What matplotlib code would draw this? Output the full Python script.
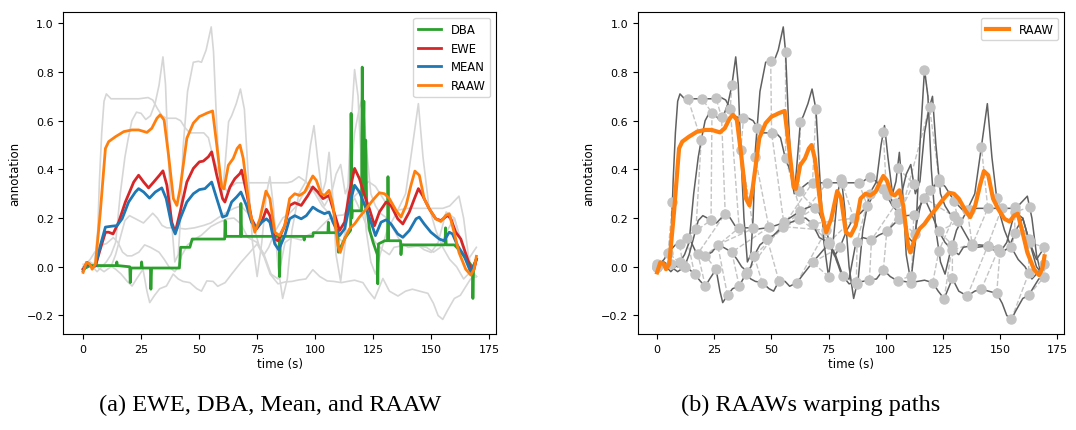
import numpy as np
import matplotlib
matplotlib.use('Agg')
import matplotlib.pyplot as plt

# annotator curves (time s, value)
t1 = [0, 2, 4, 5, 6.3, 7, 8, 9, 10, 12, 16, 20, 24, 28, 30, 32, 34, 36, 40, 42, 44, 46, 52, 54, 56, 58, 60, 62, 64, 66,
      75, 85, 88, 90, 93, 96, 100, 103, 106, 108, 110, 112, 114, 116, 118, 120, 123, 126, 130, 134, 140, 150, 155, 158,
      160, 162, 164, 166, 168, 169.5]
v1 = [0, 0.01, 0.0, 0.02, 0.15, 0.35, 0.55, 0.68, 0.71, 0.69, 0.69, 0.69, 0.69, 0.695, 0.685, 0.65, 0.62, 0.61, 0.61,
      0.6, 0.57, 0.55, 0.55, 0.53, 0.45, 0.40, 0.34, 0.31, 0.33, 0.345, 0.345, 0.345, 0.345, 0.35, 0.37, 0.35, 0.3, 0.25,
      0.22, 0.2, 0.12, 0.1, 0.2, 0.28, 0.3, 0.32, 0.35, 0.33, 0.27, 0.23, 0.24, 0.24, 0.24, 0.25, 0.27, 0.29, 0.2, 0.05,
      -0.03, -0.04]

t2 = [0, 2, 4, 6, 8, 10, 12, 14, 16, 18, 19.3, 21, 23, 25, 27, 29, 31, 32.7, 34.4, 35.5, 36.5, 38, 39.5, 41, 42, 43, 45,
      47.5, 49.7, 51, 53, 55.2, 56.2, 57.5, 59, 60, 61, 62.7, 64, 66, 67.8, 69.5, 71, 73, 75, 77, 79, 80.5, 82, 84, 86,
      88, 90, 93, 96, 98, 99.5, 101, 103, 104.5, 106, 107.5, 109, 111, 113, 115, 117, 118.5, 120, 122, 124, 126, 128,
      131, 135, 139, 142, 144.5, 146.5, 149, 152, 155, 158, 161, 164, 167, 169.5]
v2 = [0, 0.02, 0.0, -0.02, 0.0, 0.02, 0.05, 0.1, 0.3, 0.45, 0.52, 0.6, 0.635, 0.63, 0.605, 0.62, 0.67, 0.745, 0.862,
      0.75, 0.5, 0.2, 0.02, 0.05, 0.2, 0.48, 0.72, 0.84, 0.844, 0.84, 0.89, 0.985, 0.883, 0.6, 0.35, 0.3, 0.4, 0.596,
      0.62, 0.67, 0.73, 0.647, 0.4, 0.1, -0.04, 0.1, 0.3, 0.37, 0.25, 0.0, -0.13, -0.05, 0.15, 0.3, 0.35, 0.5, 0.58, 0.45,
      0.3, 0.35, 0.47, 0.3, 0.05, -0.06, 0.1, 0.5, 0.81, 0.7, 0.4, 0.15, 0.02, -0.03, 0.05, 0.15, 0.22, 0.3, 0.5, 0.67,
      0.45, 0.25, 0.15, 0.08, 0.03, 0.0, -0.05, -0.02, 0.01]

t3 = [0, 3, 6, 9, 12, 14, 16, 18, 20, 22, 24, 26, 28, 30, 32, 34, 36, 40, 44, 48, 52, 55, 58, 62, 65, 68, 71, 74, 76, 78,
      80, 83, 86, 89, 92, 95, 98, 101, 104, 107, 109, 111, 113, 115, 117, 119, 120.5, 122, 124, 126, 128, 131, 134, 137,
      140, 144, 148, 151, 154, 157, 160, 163, 166, 169.5]
v3 = [0, 0.02, 0.0, -0.02, 0.0, 0.05, 0.12, 0.19, 0.21, 0.2, 0.19, 0.18, 0.2, 0.22, 0.2, 0.17, 0.16, 0.16, 0.155, 0.16,
      0.17, 0.18, 0.2, 0.225, 0.24, 0.25, 0.22, 0.15, 0.08, 0.05, 0.08, 0.15, 0.2, 0.22, 0.25, 0.3, 0.33, 0.3, 0.25, 0.3,
      0.38, 0.42, 0.3, 0.35, 0.55, 0.65, 0.7, 0.5, 0.3, 0.25, 0.22, 0.2, 0.15, 0.1, 0.08, 0.085, 0.08, 0.06, 0.08, 0.15,
      0.2, 0.1, 0.03, 0.08]

t4 = [0, 3, 5, 8, 10, 13, 15, 17, 19, 21, 24, 26.5, 29, 32.7, 35, 37, 39.5, 41, 42.4, 45, 48.2, 51, 55, 58, 62, 65, 68,
      71, 75, 78, 81, 84, 87, 90, 94, 97, 100.5, 103, 106, 109, 112.3, 115, 117, 120, 123, 126, 129, 132, 134, 137.8,
      141, 144.6, 147, 150, 153, 156.5, 160, 163, 166, 169.5]
v4 = [0, 0.03, 0.06, 0.09, 0.095, 0.12, 0.1, 0.06, 0.045, 0.045, 0.06, 0.09, 0.08, 0.06, 0.03, 0.0, -0.02, 0.0, 0.045,
      0.09, 0.114, 0.13, 0.165, 0.18, 0.197, 0.2, 0.176, 0.12, 0.1, 0.05, -0.03, -0.05, 0.1, 0.12, 0.11, 0.13, 0.145,
      0.17, 0.197, 0.21, 0.213, 0.25, 0.282, 0.22, 0.15, 0.1, 0.07, 0.05, 0.08, 0.087, 0.09, 0.087, 0.07, 0.059, 0.1,
      0.225, 0.2, 0.1, 0.0, -0.04]

t5 = [0, 3, 6, 9, 11.3, 14, 16.4, 19, 21.1, 23, 25.8, 27.5, 28.7, 30.8, 33, 35.9, 38.8, 41, 43, 46, 49, 51, 53.3, 56, 58,
      61.2, 64, 68, 71, 75, 78, 80.6, 84, 87.2, 90, 92.9, 96, 99, 102, 105.2, 108, 111.3, 114, 117, 120.6, 123, 125.6,
      129.2, 132, 135.7, 139, 141.9, 145, 148.6, 151, 153, 155, 157, 160, 162.6, 165, 167, 169.5]
v5 = [0.01, 0.01, 0.011, 0.0, 0.007, -0.01, -0.03, -0.06, -0.079, -0.05, -0.01, -0.1, -0.147, -0.117, -0.09, -0.079,
      -0.03, -0.05, -0.06, -0.065, -0.09, -0.1, -0.058, -0.06, -0.08, -0.065, -0.03, 0.018, 0.05, 0.094, 0.04, -0.03,
      -0.07, -0.062, -0.06, -0.054, -0.05, -0.012, -0.04, -0.058, -0.06, -0.065, -0.06, -0.055, -0.065, -0.1, -0.131,
      -0.048, -0.1, -0.12, -0.1, -0.092, -0.1, -0.109, -0.15, -0.2, -0.216, -0.18, -0.13, -0.117, -0.08, -0.05, -0.04]

# aggregated curves
raaw_t = [0, 1.4, 2.9, 3.9, 5.3, 7.4, 9.6, 11, 13.9, 17.5, 21, 23.9, 27.5, 29.6, 31.8, 33.2, 34.9, 36.8, 38.9, 40.4,
          41.8, 44.7, 47.5, 50.1, 51.8, 53.3, 55.8, 57.6, 59.7, 60.7, 62.6, 64.7, 66.4, 67.6, 69, 71.9, 74, 76.2, 78.8,
          80.5, 82.6, 84.7, 86.9, 89, 91.2, 93.3, 95.5, 97.6, 99, 100.5, 102.6, 104, 106, 107.7, 109.8, 110.8, 112.7,
          114.8, 117, 119.1, 122, 124.8, 127.7, 129.9, 132, 134.9, 137, 139.2, 141.3, 143, 144.9, 147, 149.2, 152,
          154.2, 156.3, 157.8, 159.9, 162, 164.9, 167.1, 168.5, 169.5]
raaw_v = [-0.023, 0.018, 0.011, -0.01, 0.011, 0.225, 0.486, 0.514, 0.534, 0.555, 0.562, 0.562, 0.552, 0.569, 0.61,
          0.624, 0.603, 0.459, 0.28, 0.252, 0.321, 0.528, 0.59, 0.617, 0.624, 0.631, 0.64, 0.5, 0.328, 0.32, 0.417,
          0.445, 0.486, 0.5, 0.445, 0.225, 0.142, 0.197, 0.311, 0.28, 0.142, 0.128, 0.169, 0.28, 0.3, 0.293, 0.307,
          0.348, 0.373, 0.355, 0.3, 0.293, 0.314, 0.252, 0.087, 0.059, 0.114, 0.156, 0.176, 0.204, 0.238, 0.273, 0.304,
          0.3, 0.28, 0.231, 0.204, 0.252, 0.335, 0.393, 0.376, 0.28, 0.238, 0.197, 0.186, 0.211, 0.218, 0.142, 0.059,
          -0.01, -0.034, -0.01, 0.043]

ewe_t = [0, 1.7, 3.9, 5.3, 7.4, 9.6, 11, 12.9, 15.3, 18.2, 21.8, 23.9, 26.1, 28.2, 30.4, 32.9, 34.4, 36.1, 38.2, 39.7,
         41.8, 44.7, 47.5, 50.1, 51.8, 54, 55.4, 57.6, 60.1, 61.1, 63.3, 65.4, 67.6, 68.3, 70.4, 72.6, 74.8, 76.9, 79,
         80.5, 82.6, 84, 86.9, 89, 91.2, 94, 96.9, 99, 101.2, 103.4, 106, 107.7, 110.5, 112.7, 114.8, 117, 119.1, 121.3,
         123.4, 125.6, 127.7, 130.6, 132.7, 135.6, 137.8, 140.6, 142.8, 144.5, 146.3, 149.2, 152, 154.2, 157.1, 158.5,
         160.6, 162.8, 165.7, 167.5, 168.5, 169.5]
ewe_v = [-0.01, 0.018, 0.0, 0.004, 0.073, 0.142, 0.142, 0.135, 0.183, 0.266, 0.348, 0.376, 0.348, 0.324, 0.348, 0.376,
         0.394, 0.335, 0.183, 0.142, 0.225, 0.348, 0.404, 0.431, 0.434, 0.452, 0.472, 0.376, 0.28, 0.266, 0.328, 0.362,
         0.383, 0.397, 0.307, 0.197, 0.156, 0.183, 0.236, 0.21, 0.114, 0.107, 0.169, 0.252, 0.263, 0.252, 0.293, 0.328,
         0.307, 0.28, 0.293, 0.238, 0.149, 0.183, 0.307, 0.404, 0.362, 0.293, 0.238, 0.169, 0.225, 0.266, 0.252, 0.197,
         0.176, 0.225, 0.28, 0.321, 0.293, 0.238, 0.197, 0.19, 0.211, 0.197, 0.142, 0.114, 0.032, -0.023, -0.01, 0.032]

mean_t = [0, 1.7, 3.9, 5.3, 7.4, 9.6, 12.5, 14.6, 16.8, 19.6, 22.5, 23.9, 26.1, 28.6, 31.1, 33.9, 35.8, 38.2, 39.7,
          41.8, 44.7, 47.5, 50.1, 52.5, 55.4, 57.6, 60.1, 61.9, 64, 66.2, 68, 70.4, 72.6, 74.8, 76.9, 79, 80.5, 82.6,
          84.3, 86.9, 89, 91.2, 94, 96.2, 99, 101.2, 104, 106, 107.7, 110.5, 112.7, 114.8, 117, 119.1, 122, 124.1, 126,
          128.4, 130.6, 132.7, 135.6, 137.8, 140.6, 143.5, 144.9, 147, 149.9, 153.5, 155.6, 157.8, 159.2, 161.4, 164.2,
          167.1, 169.5]
mean_v = [-0.017, 0.011, 0.0, 0.004, 0.087, 0.163, 0.167, 0.169, 0.197, 0.266, 0.307, 0.321, 0.307, 0.282, 0.307,
          0.324, 0.28, 0.169, 0.135, 0.197, 0.266, 0.3, 0.317, 0.321, 0.348, 0.28, 0.204, 0.211, 0.266, 0.287, 0.307,
          0.252, 0.183, 0.163, 0.183, 0.197, 0.183, 0.094, 0.07, 0.128, 0.197, 0.21, 0.197, 0.21, 0.245, 0.231, 0.218,
          0.225, 0.183, 0.128, 0.156, 0.252, 0.335, 0.307, 0.238, 0.183, 0.128, 0.183, 0.193, 0.176, 0.135, 0.121, 0.149,
          0.197, 0.204, 0.176, 0.142, 0.114, 0.107, 0.142, 0.135, 0.087, 0.045, -0.023, 0.032]

dba_t = [0, 3, 14.3, 14.5, 14.8, 20.1, 20.3, 20.6, 25, 25.2, 25.5, 29, 29.2, 29.5, 41.5, 42, 46, 47, 61, 61.2, 61.5,
         67.8, 68, 68.3, 84.5, 84.7, 85, 95, 95.3, 95.6, 99, 99.2, 105.5, 105.7, 106, 109.8, 110, 113, 115.3, 115.5,
         115.8, 116, 120, 120.3, 120.6, 121, 121.4, 121.8, 122.2, 123.5, 125, 126.8, 127, 127.3, 130, 131.2, 131.4,
         131.7, 136.8, 137, 137.3, 156, 156.2, 156.5, 160, 162, 167.8, 168, 168.3, 169.5]
dba_v = [-0.01, 0.005, 0.005, 0.02, 0.005, 0.0, -0.065, -0.005, -0.005, 0.02, -0.005, -0.005, -0.092, -0.005, -0.005,
         0.08, 0.08, 0.114, 0.114, 0.19, 0.125, 0.125, 0.26, 0.125, 0.125, -0.04, 0.125, 0.125, 0.11, 0.125, 0.125,
         0.14, 0.14, 0.183, 0.14, 0.14, 0.06, 0.12, 0.15, 0.63, 0.2, 0.23, 0.23, 0.82, 0.45, 0.68, 0.3, 0.52, 0.25, 0.15,
         0.1, 0.05, -0.07, 0.094, 0.107, 0.107, 0.37, 0.107, 0.107, 0.05, 0.09, 0.09, 0.16, 0.09, 0.09, 0.07, 0.0,
         -0.13, 0.0, 0.03]

# warping path columns: time on each annotator curve
warp = [
    (0, 0, 0, 0, 0), (6.7, 9.8, 12, 4.8, 6.2), (13.5, 19.3, 17, 9.8, 11.3), (19.7, 24, 23.6, 13, 16.4),
    (25.8, 28.2, 29.8, 17.8, 21.1), (32, 32.7, 35.9, 21.1, 25.8), (37.8, 36.6, 42.1, 26.5, 30.8),
    (43.9, 42.9, 48.9, 32.7, 35.9), (50.1, 49.7, 55.4, 39.5, 38.8), (56.2, 56.2, 62.7, 42.4, 46),
    (62, 62.7, 68.9, 48.2, 53.3), (68, 69.5, 74, 55, 61.2), (74.4, 75, 80, 62, 68), (81, 80.6, 86, 68, 75),
    (88.2, 87.5, 92, 75, 81.4), (93.2, 93, 99, 87.5, 87.2), (100.4, 99, 104.7, 93.8, 92.9),
    (106, 105.2, 112.3, 100.5, 99), (112.7, 111.3, 119.2, 106, 105.2), (119.4, 117, 123.4, 112.3, 111.3),
    (123.4, 123.3, 129.9, 117, 120.6), (129.9, 129.2, 131.8, 123.3, 125.6), (136.8, 135.7, 137.8, 129.2, 129.2),
    (144.7, 141.9, 144.6, 137.8, 135.7), (150.8, 148.6, 149.3, 144.6, 141.9), (156.5, 155, 156.5, 150, 148.6),
    (163, 162.6, 162.6, 156.5, 155), (169.5, 169.5, 169.5, 163, 162.6),
]

curves = [(t1, v1), (t2, v2), (t3, v3), (t4, v4), (t5, v5)]

fig = plt.figure(figsize=(10.76, 4.31), dpi=100)
ax1 = fig.add_axes([0.059, 0.2227, 0.402, 0.7464])
ax2 = fig.add_axes([0.5927, 0.2227, 0.396, 0.7464])

for t, v in curves:
    ax1.plot(t, v, color='#d6d6d6', lw=1.2)
ax1.plot(dba_t, dba_v, color='tab:green', lw=2, label='DBA')
ax1.plot(ewe_t, ewe_v, color='tab:red', lw=2, label='EWE')
ax1.plot(mean_t, mean_v, color='tab:blue', lw=2, label='MEAN')
ax1.plot(raaw_t, raaw_v, color='tab:orange', lw=2, label='RAAW')
ax1.legend(loc='upper right', fontsize=8.4)

for t, v in curves:
    ax2.plot(t, v, color='#606060', lw=1.1, zorder=2)
for col in warp:
    vals = [np.interp(tc, c[0], c[1]) for tc, c in zip(col, curves)]
    order = np.argsort(vals)
    xs = np.array(col)[order]
    ys = np.array(vals)[order]
    ax2.plot(xs, ys, '--', color='#c4c4c4', lw=1.0, zorder=1)
    ax2.plot(xs, ys, 'o', color='#c4c4c4', ms=6.5, zorder=3)
ax2.plot(raaw_t, raaw_v, color='tab:orange', lw=3, label='RAAW', zorder=4)
ax2.legend(loc='upper right', fontsize=8.4)

for ax in (ax1, ax2):
    ax.set_xlabel('time (s)', fontsize=8.5, labelpad=2)
    ax.set_ylabel('annotation', fontsize=8.5)
    ax.tick_params(labelsize=8)
    ax.set_xticks([0, 25, 50, 75, 100, 125, 150, 175])
    ax.set_yticks([-0.2, 0.0, 0.2, 0.4, 0.6, 0.8, 1.0])

fig.text(0.251, 0.06, '(a) EWE, DBA, Mean, and RAAW', ha='center', va='center',
         family='Liberation Serif', fontsize=17.5)
fig.text(0.753, 0.06, '(b) RAAWs warping paths', ha='center', va='center',
         family='Liberation Serif', fontsize=17.5)

fig.savefig('out.png', dpi=100)
